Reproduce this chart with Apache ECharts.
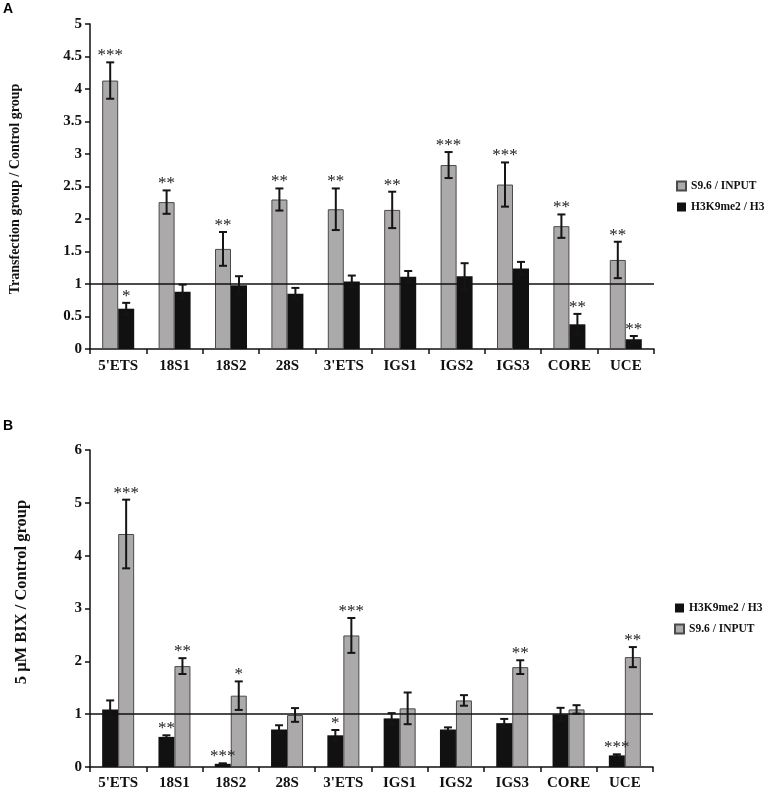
<!DOCTYPE html>
<html><head><meta charset="utf-8">
<script src="https://cdn.jsdelivr.net/npm/echarts@6/dist/echarts.min.js"></script>
<style>html,body{margin:0;padding:0;background:#fff}#c{width:770px;height:796px}</style>
</head><body><div id="c"></div>
<script>
const categories = ["5'ETS","18S1","18S2","28S","3'ETS","IGS1","IGS2","IGS3","CORE","UCE"];
// Panel A
const a_s96 = [4.13, 2.26, 1.54, 2.30, 2.15, 2.14, 2.83, 2.53, 1.89, 1.37];
const a_s96_err = [0.28, 0.18, 0.26, 0.17, 0.32, 0.28, 0.20, 0.34, 0.18, 0.28];
const a_s96_sig = ['***','**','**','**','**','**','***','***','**','**'];
const a_h3k = [0.62, 0.88, 0.98, 0.85, 1.04, 1.11, 1.12, 1.24, 0.38, 0.15];
const a_h3k_err = [0.09, 0.11, 0.14, 0.09, 0.09, 0.09, 0.20, 0.10, 0.16, 0.05];
const a_h3k_sig = ['*','','','','','','','','**','**'];
// Panel B
const b_h3k = [1.09, 0.57, 0.06, 0.71, 0.60, 0.92, 0.71, 0.83, 1.00, 0.22];
const b_h3k_err = [0.17, 0.03, 0.01, 0.08, 0.10, 0.10, 0.04, 0.08, 0.12, 0.02];
const b_h3k_sig = ['','**','***','','*','','','','','***'];
const b_s96 = [4.41, 1.91, 1.35, 0.985, 2.49, 1.11, 1.26, 1.89, 1.09, 2.08];
const b_s96_err = [0.65, 0.15, 0.27, 0.13, 0.33, 0.30, 0.10, 0.13, 0.08, 0.19];
const b_s96_sig = ['***','**','*','','***','','','**','','**'];
const refLine = 1;

const NAME_S96 = 'S9.6 / INPUT';
const NAME_H3K = 'H3K9me2 / H3';
const GRAY = '#aba9a9';
const BLACK = '#111111';
const BAR_W = 16;
const SERIF = '"Liberation Serif","Times New Roman",serif';

function errSeries(vals, errs, sigs, side, idx) {
  return {
    type: 'custom', xAxisIndex: idx, yAxisIndex: idx, z: 10, silent: true,
    data: vals.map((v, i) => [i, v, errs[i]]),
    renderItem: function (params, api) {
      const i = api.value(0), v = api.value(1), e = api.value(2);
      const off = side * BAR_W / 2;
      const top = api.coord([i, v + e]);
      const bot = api.coord([i, v - e]);
      const x = top[0] + off;
      const cw = 4;
      const s = {stroke: '#151515', lineWidth: 2};
      const sig = sigs[params.dataIndex];
      const children = [
        {type: 'line', shape: {x1: x, y1: top[1], x2: x, y2: bot[1]}, style: s},
        {type: 'line', shape: {x1: x - cw, y1: top[1], x2: x + cw, y2: top[1]}, style: s},
        {type: 'line', shape: {x1: x - cw, y1: bot[1], x2: x + cw, y2: bot[1]}, style: s}
      ];
      if (sig) {
        children.push({type: 'text', style: {text: sig, x: x, y: top[1] + 2,
          textAlign: 'center', textVerticalAlign: 'bottom', align: 'center', verticalAlign: 'bottom',
          font: '17px ' + SERIF, fill: '#222'}});
      }
      return {type: 'group', children: children};
    }
  };
}

function barSeries(name, vals, idx, color, withLine) {
  const s = {
    name: name, type: 'bar', xAxisIndex: idx, yAxisIndex: idx,
    data: vals, barWidth: BAR_W, barGap: '0%',
    itemStyle: color === GRAY ? {color: GRAY, borderColor: '#4a4a4a', borderWidth: 1} : {color: BLACK},
    emphasis: {disabled: true}
  };
  if (withLine) {
    s.markLine = {silent: true, symbol: 'none', label: {show: false},
      lineStyle: {color: '#111', width: 1.5, type: 'solid'}, data: [{yAxis: refLine}]};
  }
  return s;
}

const axisCommonX = (idx, margin) => ({
  type: 'category', gridIndex: idx, data: categories,
  axisLine: {lineStyle: {color: '#111', width: 1.5}},
  axisTick: {show: true, alignWithLabel: false, length: 5, lineStyle: {color: '#111', width: 1.5}},
  axisLabel: {color: '#111', fontFamily: SERIF, fontWeight: 'bold', fontSize: 15, margin: margin, interval: 0}
});
const axisCommonY = (idx, max, interval) => ({
  type: 'value', gridIndex: idx, min: 0, max: max, interval: interval,
  splitLine: {show: false},
  axisLine: {show: true, lineStyle: {color: '#111', width: 1.5}},
  axisTick: {show: true, length: 5, lineStyle: {color: '#111', width: 1.5}},
  axisLabel: {color: '#111', fontFamily: SERIF, fontWeight: 'bold', fontSize: 15, margin: 8}
});

const chart = echarts.init(document.getElementById('c'));
chart.setOption({
  animation: false,
  backgroundColor: '#fff',
  grid: [
    {left: 90, top: 24, width: 564, height: 325},
    {left: 90, top: 450, width: 563, height: 317}
  ],
  xAxis: [axisCommonX(0, 10), axisCommonX(1, 9)],
  yAxis: [axisCommonY(0, 5, 0.5), axisCommonY(1, 6, 1)],
  legend: [
    {orient: 'vertical', left: 671, top: 175, itemWidth: 9, itemHeight: 9, itemGap: 9,
     icon: 'rect', data: [NAME_S96, NAME_H3K], selectedMode: false,
     textStyle: {fontFamily: SERIF, fontWeight: 'bold', fontSize: 11.5, color: '#111'}},
    {orient: 'vertical', left: 669, top: 597, itemWidth: 9, itemHeight: 9, itemGap: 9,
     icon: 'rect', data: [NAME_H3K, NAME_S96], selectedMode: false,
     textStyle: {fontFamily: SERIF, fontWeight: 'bold', fontSize: 11.5, color: '#111'}}
  ],
  graphic: [
    {type: 'text', left: 3, top: 2, style: {text: 'A', font: 'bold 14px "Liberation Sans",Arial,sans-serif', fill: '#000'}},
    {type: 'text', left: 3, top: 419, style: {text: 'B', font: 'bold 14px "Liberation Sans",Arial,sans-serif', fill: '#000'}},
    {type: 'text', x: 15, y: 189, rotation: Math.PI / 2,
     style: {text: 'Transfection group / Control group', font: 'bold 14px ' + SERIF, fill: '#111',
       textAlign: 'center', textVerticalAlign: 'middle', align: 'center', verticalAlign: 'middle'}},
    {type: 'text', x: 22, y: 592, rotation: Math.PI / 2,
     style: {text: '5 μM BIX / Control group', font: 'bold 16.5px ' + SERIF, fill: '#111',
       textAlign: 'center', textVerticalAlign: 'middle', align: 'center', verticalAlign: 'middle'}}
  ],
  series: [
    barSeries(NAME_S96, a_s96, 0, GRAY, true),
    barSeries(NAME_H3K, a_h3k, 0, BLACK, false),
    errSeries(a_s96, a_s96_err, a_s96_sig, -1, 0),
    errSeries(a_h3k, a_h3k_err, a_h3k_sig, 1, 0),
    barSeries(NAME_H3K, b_h3k, 1, BLACK, true),
    barSeries(NAME_S96, b_s96, 1, GRAY, false),
    errSeries(b_h3k, b_h3k_err, b_h3k_sig, -1, 1),
    errSeries(b_s96, b_s96_err, b_s96_sig, 1, 1)
  ]
});
</script>
</body></html>
